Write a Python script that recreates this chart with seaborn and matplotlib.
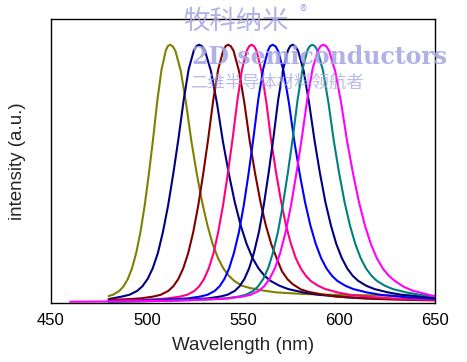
import matplotlib
matplotlib.use("Agg")
import matplotlib.pyplot as plt
import numpy as np
import pandas as pd
import seaborn as sns
from matplotlib.ticker import MultipleLocator

# ---- data (wavelength nm, normalised intensity) ----
curve_names = ["c512", "c527", "c542", "c555", "c566", "c576", "c586", "c592"]
curve_colors = ["#808000", "#000080", "#800000", "#FF0080", "#0000FF", "#000080", "#008080", "#FF00FF"]

c512_wl = [480, 482.3, 485.6, 487.8, 490.0, 492.2, 494.4, 496.6, 498.8, 501.0, 503.2, 505.4, 507.6, 509.8, 510.9, 512.0,
           513.4, 514.8, 517.6, 520.3, 523.1, 525.9, 528.7, 531.5, 534.2, 537.0, 539.8, 542.6, 545.4, 549.5, 553.7,
           560.7, 567.6, 581.5, 595.4, 623.2, 650]
c512_I = [0.024, 0.029, 0.044, 0.062, 0.090, 0.132, 0.192, 0.273, 0.376, 0.500, 0.636, 0.785, 0.905, 0.978, 0.995, 1.0,
          0.994, 0.976, 0.898, 0.775, 0.626, 0.500, 0.389, 0.298, 0.226, 0.171, 0.131, 0.103, 0.083, 0.064, 0.055,
          0.045, 0.038, 0.032, 0.029, 0.026, 0.025]

c527_wl = [480, 486.9, 490.9, 494.9, 497.6, 500.3, 503.0, 505.7, 508.3, 511.0, 513.7, 516.4, 519.1, 521.7, 524.4, 525.8,
           527.1, 528.7, 530.2, 533.3, 536.4, 539.5, 542.6, 545.7, 548.8, 551.9, 555.0, 558.1, 561.2, 564.3, 569.0,
           573.6, 581.4, 589.1, 604.6, 620.1, 650]
c527_I = [0.012, 0.022, 0.029, 0.044, 0.062, 0.090, 0.132, 0.192, 0.273, 0.376, 0.500, 0.636, 0.785, 0.905, 0.978, 0.995,
          1.0, 0.994, 0.976, 0.898, 0.775, 0.626, 0.500, 0.389, 0.298, 0.226, 0.171, 0.131, 0.103, 0.083, 0.064,
          0.051, 0.038, 0.029, 0.019, 0.0135, 0.009]

c542_wl = [480, 490.3, 496.8, 503.3, 507.2, 511.1, 513.7, 516.3, 518.9, 521.5, 524.1, 526.7, 529.3, 531.9, 534.5, 537.1,
           539.7, 541.0, 542.3, 543.7, 545.1, 547.9, 550.7, 553.5, 556.3, 559.1, 561.9, 564.7, 567.5, 570.3, 573.1,
           575.9, 580.1, 584.3, 591.3, 598.3, 612.3, 626.3, 650]
c542_I = [0.009, 0.012, 0.015, 0.022, 0.029, 0.044, 0.062, 0.090, 0.132, 0.192, 0.273, 0.376, 0.500, 0.636, 0.785, 0.905,
          0.978, 0.995, 1.0, 0.994, 0.976, 0.898, 0.775, 0.626, 0.500, 0.389, 0.298, 0.226, 0.171, 0.120, 0.090,
          0.070, 0.050, 0.040, 0.030, 0.022, 0.015, 0.011, 0.007]

c555_wl = [480, 492.5, 504.9, 511.1, 517.3, 521.0, 524.7, 527.2, 529.7, 532.2, 534.7, 537.1, 539.6, 542.1, 544.6, 547.1,
           549.5, 552.0, 553.3, 554.5, 555.8, 557.1, 559.6, 562.2, 564.7, 567.3, 569.9, 572.4, 575.0, 577.5, 580.1,
           582.7, 585.2, 589.1, 592.9, 599.3, 605.7, 618.5, 631.3, 650]
c555_I = [0.005, 0.008, 0.012, 0.015, 0.022, 0.029, 0.044, 0.062, 0.090, 0.132, 0.192, 0.273, 0.376, 0.500, 0.636, 0.785,
          0.905, 0.978, 0.995, 1.0, 0.994, 0.976, 0.898, 0.775, 0.626, 0.500, 0.389, 0.298, 0.226, 0.171, 0.131,
          0.103, 0.083, 0.064, 0.051, 0.038, 0.029, 0.019, 0.0135, 0.009]

c566_wl = [480, 489.9, 502.5, 515.1, 521.4, 527.7, 531.5, 535.3, 537.8, 540.3, 542.8, 545.3, 547.9, 550.4, 552.9, 555.4,
           557.9, 560.5, 563.0, 564.2, 565.5, 566.9, 568.3, 571.1, 573.9, 576.7, 579.5, 582.3, 585.1, 587.9, 590.7,
           593.5, 596.3, 599.1, 603.3, 607.5, 614.5, 621.5, 635.5, 650]
c566_I = [0.004, 0.005, 0.008, 0.012, 0.015, 0.022, 0.029, 0.044, 0.062, 0.090, 0.132, 0.192, 0.273, 0.376, 0.500, 0.636,
          0.785, 0.905, 0.978, 0.995, 1.0, 0.994, 0.976, 0.898, 0.775, 0.626, 0.500, 0.389, 0.298, 0.226, 0.171,
          0.131, 0.103, 0.083, 0.064, 0.051, 0.038, 0.029, 0.019, 0.0135]

c576_wl = [480, 500.3, 512.9, 525.5, 531.8, 538.1, 541.9, 545.7, 548.2, 550.7, 553.2, 555.7, 558.3, 560.8, 563.3, 565.8,
           568.3, 570.9, 573.4, 574.6, 575.9, 577.3, 578.7, 581.6, 584.4, 587.3, 590.1, 592.9, 595.8, 598.6, 601.5,
           604.3, 607.1, 610.0, 614.2, 618.5, 625.6, 632.7, 646.9, 650]
c576_I = [0.003, 0.005, 0.008, 0.012, 0.015, 0.022, 0.029, 0.044, 0.062, 0.090, 0.132, 0.192, 0.273, 0.376, 0.500, 0.636,
          0.785, 0.905, 0.978, 0.995, 1.0, 0.994, 0.976, 0.898, 0.775, 0.626, 0.500, 0.389, 0.298, 0.226, 0.171,
          0.131, 0.103, 0.083, 0.064, 0.051, 0.038, 0.029, 0.019, 0.018]

c586_wl = [480, 509.3, 522.1, 534.9, 541.3, 547.7, 551.5, 555.4, 557.9, 560.5, 563.1, 565.6, 568.2, 570.7, 573.3, 575.9,
           578.4, 581.0, 583.5, 584.8, 586.1, 587.5, 588.9, 591.7, 594.5, 597.3, 600.1, 602.9, 605.7, 608.5, 611.3,
           614.1, 616.9, 619.7, 623.9, 628.1, 635.1, 642.1, 650]
c586_I = [0.002, 0.005, 0.008, 0.012, 0.015, 0.022, 0.029, 0.044, 0.062, 0.090, 0.132, 0.192, 0.273, 0.376, 0.500, 0.636,
          0.785, 0.905, 0.978, 0.995, 1.0, 0.994, 0.976, 0.898, 0.775, 0.626, 0.500, 0.389, 0.298, 0.226, 0.171,
          0.131, 0.103, 0.083, 0.064, 0.051, 0.038, 0.029, 0.023]

c592_wl = [460, 480, 507.8, 521.8, 535.8, 542.8, 549.8, 554.0, 558.2, 561.0, 563.8, 566.6, 569.4, 572.2, 575.0, 577.8,
           580.6, 583.4, 586.2, 589.0, 590.4, 591.8, 593.4, 594.9, 598.0, 601.1, 604.2, 607.3, 610.4, 613.5, 616.6,
           619.7, 622.8, 625.9, 629.0, 633.7, 638.3, 646.1, 650]
c592_I = [0.002, 0.003, 0.005, 0.008, 0.012, 0.015, 0.022, 0.029, 0.044, 0.062, 0.090, 0.132, 0.192, 0.273, 0.376, 0.500,
          0.636, 0.785, 0.905, 0.978, 0.995, 1.0, 0.994, 0.976, 0.898, 0.775, 0.626, 0.500, 0.389, 0.298, 0.226,
          0.171, 0.131, 0.103, 0.083, 0.060, 0.045, 0.030, 0.022]

x_ticks = [450, 500, 550, 600, 650]
x_label = "Wavelength (nm)"
y_label = "intensity (a.u.)"
wm_brand = "牧科纳米"
wm_en = "2D semiconductors"
wm_cn = "二维半导体材料领航者"

series = {
    "c512": (c512_wl, c512_I), "c527": (c527_wl, c527_I), "c542": (c542_wl, c542_I),
    "c555": (c555_wl, c555_I), "c566": (c566_wl, c566_I), "c576": (c576_wl, c576_I),
    "c586": (c586_wl, c586_I), "c592": (c592_wl, c592_I),
}
rows = []
for name in curve_names:
    wl, inten = series[name]
    for w, v in zip(wl, inten):
        rows.append({"curve": name, "wl": w, "I": v})
df = pd.DataFrame(rows)

sns.set_style("white")
plt.rcParams["font.family"] = ["Liberation Sans", "DejaVu Sans"]

fig = plt.figure(figsize=(4.67, 3.62), dpi=100)
ax = fig.add_axes([0.1092, 0.163, 0.8223, 0.7845])

sns.lineplot(data=df, x="wl", y="I", hue="curve", hue_order=curve_names,
             palette=dict(zip(curve_names, curve_colors)), estimator=None, sort=False,
             linewidth=1.5, legend=False, ax=ax)

ax.set_xlim(450, 650)
ax.set_ylim(-0.003, 1.1)
ax.set_xticks(x_ticks)
ax.xaxis.set_minor_locator(MultipleLocator(25))
ax.set_yticks([])
ax.tick_params(axis="x", which="major", direction="in", length=4, width=0.8,
               labelsize=12, pad=7, colors="black")
ax.tick_params(axis="x", which="minor", direction="in", length=3, width=0.8)
for sp in ax.spines.values():
    sp.set_color("black")
    sp.set_linewidth(1.0)

ax.set_xlabel(x_label, fontsize=13.5, va="top")
ax.xaxis.set_label_coords(0.5, -0.118)
ax.set_ylabel(y_label, fontsize=13.5)
ax.yaxis.set_label_coords(-0.065, 0.5)

# watermark
wm_col = "#a4a4e4"
cjk = ["Noto Sans CJK SC", "DejaVu Sans"]
fig.text(183 / 467, 1 - 21 / 362, wm_brand, family=cjk, fontsize=19, color=wm_col,
         alpha=0.85, ha="left", va="center", zorder=10)
fig.text(300 / 467, 1 - 12 / 362, "®", family=cjk, fontsize=11, color=wm_col,
         alpha=0.85, ha="left", va="center", zorder=10)
fig.text(192 / 467, 1 - 57 / 362, wm_en, family=["DejaVu Serif"], fontweight="bold",
         fontsize=17, color=wm_col, alpha=0.85, ha="left", va="center", zorder=10)
fig.text(190 / 467, 1 - 83 / 362, wm_cn, family=cjk, fontsize=12.5, color=wm_col,
         alpha=0.75, ha="left", va="center", zorder=10)

fig.savefig("out.png", dpi=100)
